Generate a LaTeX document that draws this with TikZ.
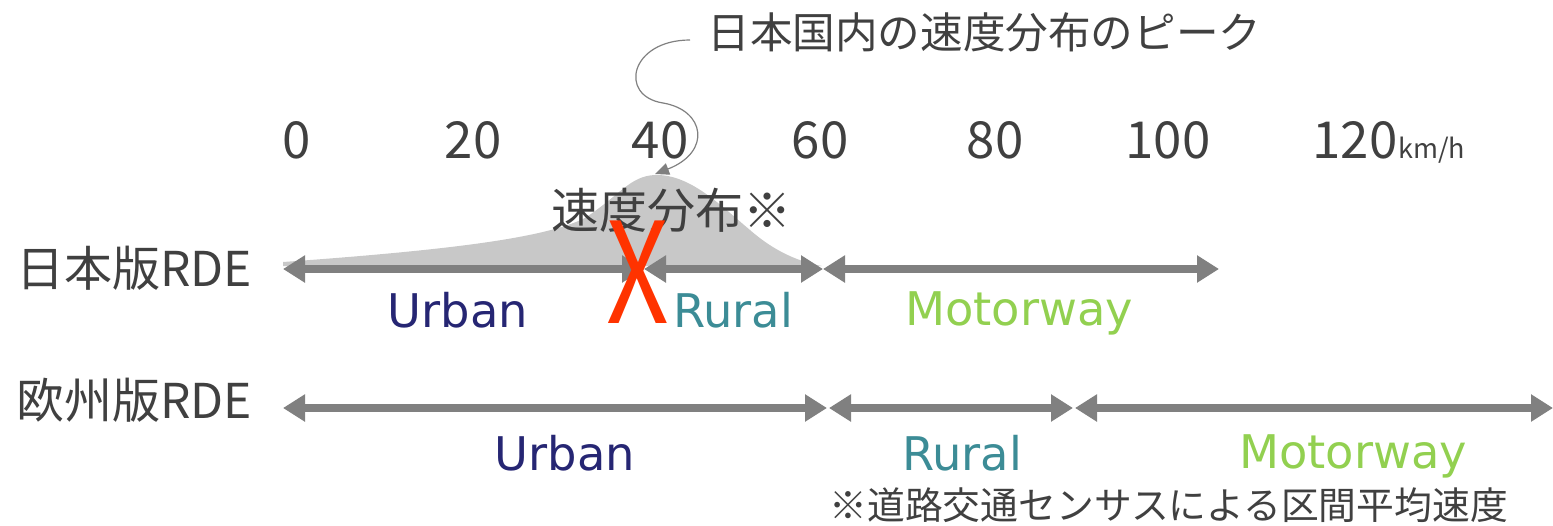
\documentclass[tikz,border=0pt]{standalone}
\usepackage{fontspec}
\setmainfont{Noto Sans CJK JP}
\newfontfamily\latfont{DejaVu Sans}
\usetikzlibrary{arrows.meta}
\definecolor{textgray}{HTML}{404040}
\definecolor{arrowgray}{HTML}{808080}
\definecolor{distgray}{HTML}{C8C8C8}
\definecolor{urbanc}{HTML}{262673}
\definecolor{ruralc}{HTML}{3C8C96}
\definecolor{motorc}{HTML}{92D050}
\definecolor{xred}{HTML}{FF3300}
\begin{document}
\begin{tikzpicture}[x=0.5pt,y=-0.5pt,
  txt/.style={text=textgray, inner sep=0pt, anchor=center},
  num/.style={txt, font=\fontsize{25.5}{28}\selectfont, anchor=base},
  lab/.style={txt, font=\fontsize{24}{28}\selectfont},
  modelab/.style={inner sep=0pt, anchor=center, font=\latfont\fontsize{23.2}{28}\selectfont},
  rng/.style={draw=arrowgray, line width=4pt,
    {Triangle[length=11pt,width=13pt]}-{Triangle[length=11pt,width=13pt]}},
  conn/.style={draw=arrowgray, line width=0.6pt, -{Triangle[length=7pt,width=6pt]}}]
\useasboundingbox (0,0) rectangle (1553,525);

% distribution shape
\fill[distgray] (283,262) .. controls (450,250) and (545,238) .. (585,218)
  .. controls (620,195) and (630,176) .. (655,175)
  .. controls (690,174) and (720,205) .. (750,230)
  .. controls (775,252) and (800,262) .. (822,266) -- (283,266) -- cycle;

% top label and connector
\node[txt, font=\fontsize{21.3}{24}\selectfont, anchor=west] (peaklab) at (707,32) {日本国内の速度分布のピーク};
\coordinate (cstart) at (690,40);
\coordinate (peak) at (655,174);
\draw[conn] (cstart) .. controls (630,40) and (618,96) .. (663,103)
  .. controls (705,110) and (712,152) .. (peak);

% scale numbers
\node[num] (n0) at (297,158) {0};
\node[num] (n20) at (473,158) {20};
\node[num] (n40) at (660,158) {40};
\node[num] (n60) at (820,158) {60};
\node[num] (n80) at (995,158) {80};
\node[num] (n100) at (1168,158) {100};
\node[num, anchor=base west] (n120) at (1312,158) {120};
\node[txt, anchor=base west, font=\fontsize{13.5}{15}\selectfont] (kmh) at (n120.base east) {km/h};

\node[lab] (dist) at (671,210) {速度分布※};

% row labels
\node[lab, anchor=west] (jp) at (16,268) {日本版RDE};
\node[lab, anchor=west] (eu) at (16,400) {欧州版RDE};

% row 1 arrows
\coordinate (j0) at (283,269);
\coordinate (j1) at (644,269);
\coordinate (j1b) at (644,269);
\coordinate (j2) at (823,269);
\coordinate (j2b) at (823,269);
\coordinate (j3) at (1219,269);
\draw[rng] (j0) -- (j1);
\draw[rng] (j1b) -- (j2);
\draw[rng] (j2b) -- (j3);

% row 2 arrows
\coordinate (e0) at (283,408);
\coordinate (e1) at (827,408);
\coordinate (e1b) at (829,408);
\coordinate (e2) at (1073,408);
\coordinate (e2b) at (1075,408);
\coordinate (e3) at (1553,408);
\draw[rng] (e0) -- (e1);
\draw[rng] (e1b) -- (e2);
\draw[rng] (e2b) -- (e3);

% row 1 labels
\node[modelab, text=urbanc] (u1) at (458,310) {Urban};
\node[modelab, text=ruralc] (r1) at (733,310) {Rural};
\node[modelab, text=motorc] (m1) at (1019,313) {Motorway};

% red X
\node[inner sep=0pt, text=xred, font=\fontsize{70}{70}\selectfont, xscale=0.78] (xmark) at (638,272) {X};

% row 2 labels
\node[modelab, text=urbanc] (u2) at (565,453) {Urban};
\node[modelab, text=ruralc] (r2) at (962,453) {Rural};
\node[modelab, text=motorc] (m2) at (1353,456) {Motorway};

% footnote
\node[txt, font=\fontsize{18.9}{22}\selectfont, anchor=west] (foot) at (829,505) {※道路交通センサスによる区間平均速度};
\end{tikzpicture}
\end{document}
